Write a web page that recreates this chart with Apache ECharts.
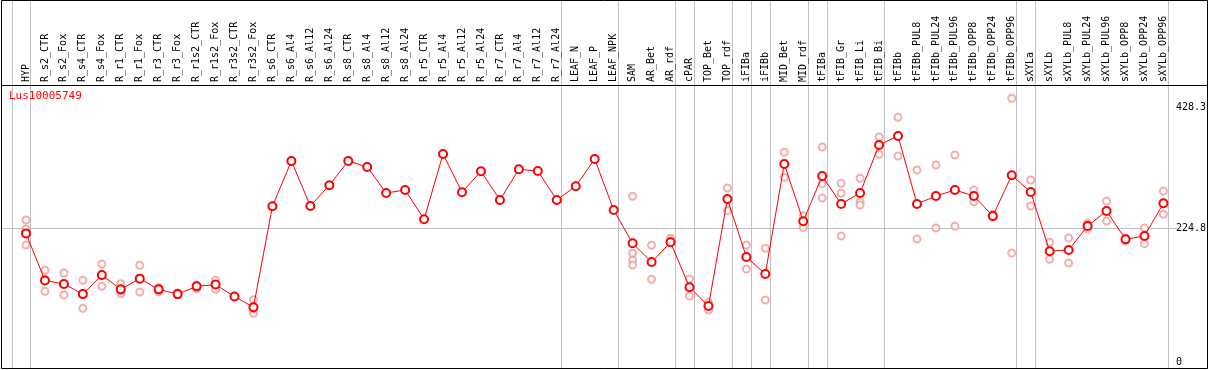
<!DOCTYPE html>
<html><head><meta charset="utf-8">
<script src="https://cdn.jsdelivr.net/npm/echarts@6/dist/echarts.min.js"></script>
<style>html,body{margin:0;padding:0;background:#fff}#c{width:1209px;height:370px}</style>
</head><body><div id="c"></div>
<script>
const title = 'Lus10005749';
const categories = ['HYP','R_s2_CTR','R_s2_Fox','R_s4_CTR','R_s4_Fox','R_r1_CTR','R_r1_Fox','R_r3_CTR','R_r3_Fox','R_r1s2_CTR','R_r1s2_Fox','R_r3s2_CTR','R_r3s2_Fox','R_s6_CTR','R_s6_Al4','R_s6_Al12','R_s6_Al24','R_s8_CTR','R_s8_Al4','R_s8_Al12','R_s8_Al24','R_r5_CTR','R_r5_Al4','R_r5_Al12','R_r5_Al24','R_r7_CTR','R_r7_Al4','R_r7_Al12','R_r7_Al24','LEAF_N','LEAF_P','LEAF_NPK','SAM','AR_Bet','AR_rdf','cPAR','TOP_Bet','TOP_rdf','iFIBa','iFIBb','MID_Bet','MID_rdf','tFIBa','tFIB_Gr','tFIB_Li','tFIB_Bi','tFIBb','tFIBb_PUL8','tFIBb_PUL24','tFIBb_PUL96','tFIBb_OPP8','tFIBb_OPP24','tFIBb_OPP96','sXYLa','sXYLb','sXYLb_PUL8','sXYLb_PUL24','sXYLb_PUL96','sXYLb_OPP8','sXYLb_OPP24','sXYLb_OPP96'];
const meanValues = [216,137,131,114,146,122,140,122,114,127,130,110,92,261.5,337.6,262,296.8,337.6,327.5,283.8,288.9,239.7,349.3,285,320.3,272.1,323.6,320.8,272.1,295.1,340.9,255.3,199.3,168,201,125.5,94,273.8,176.4,147.8,332.6,236.3,312.4,265.4,283.8,364.5,379.6,265.4,278.8,288.9,278.8,245.2,313.6,285.5,185.9,188.1,228.4,253.6,206.1,211.6,266.5];
const replicateValues = [
 [238.5,222.9,196.5],[154,118.7,139],[149.5,112.5,131],[137.2,90.2,115],[164.6,127.1,145],[131.5,114.7,120],[162.4,117.6,140],[123,118,125],[113,116],[129,123],[137.2,122],[],[104.7,81.8,89],
 [],[],[],[],[],[],[],[],[],[],[],[],[],[],[],[],[],[],[],
 [278.3,182.6,171.3,162.9],[196,138.9],[207.8,203],[139.4,110.8],[100.2,87.3],[292.2,254.2],[196.5,156.2],[191,104.1],[352.2,310.2],[245.7,226.2],[361.1,299.5,275.4],[300.1,283.3,211.6],[308.5,269.3,263.7],[377.9,348.8],[411,346],
 [322.5,206.6],[330.9,225.1],[347.7,227.9],[288.9,269.2],[248,243],[442.9,183.1],[305.7,262],[201,172.5],[208.3,166.3],[232.9,223.9],[270.4,236.8],[208,203],[225.1,198.7],[287.2,248.1]
];
const yTickLabels = [0, 224.8, 428.3];
const gridLineValue = 224.8;
const groupEndsAfter = [-1,0,28,31,34,35,37,38,39,41,42,45,52,53,60];

const yMin = -10.1, yMax = 465.2;
const FONT = 'DejaVu Sans Mono';
const repData = [];
replicateValues.forEach((arr, i) => arr.forEach(v => repData.push([i, v])));

const chart = echarts.init(document.getElementById('c'), null, {renderer: 'canvas'});
chart.setOption({
  animation: false,
  backgroundColor: '#fff',
  grid: [
    {left: 16.5, width: 1159, top: 85, height: 283, containLabel: false}
  ],
  xAxis: [{
    type: 'category', data: categories, position: 'top', boundaryGap: true,
    axisLine: {show: false}, axisTick: {show: false}, splitLine: {show: false},
    axisLabel: {rotate: 90, interval: 0, margin: 3, fontFamily: FONT, fontSize: 10, color: '#000'}
  }],
  yAxis: [{
    type: 'value', min: yMin, max: yMax, position: 'right',
    axisLine: {show: false}, axisTick: {show: false}, splitLine: {show: false},
    axisLabel: {customValues: yTickLabels, margin: 3, fontFamily: FONT, fontSize: 10, color: '#000',
      formatter: v => String(v)}
  }],
  series: [
    {type: 'scatter', data: repData, symbol: 'emptyCircle', symbolSize: 7,
     itemStyle: {color: '#f09a9a', borderWidth: 1.2}, z: 2},
    {type: 'line', data: meanValues, symbol: 'emptyCircle', symbolSize: 8, showAllSymbol: true,
     lineStyle: {color: '#ff0000', width: 1}, itemStyle: {color: '#ff0000', borderWidth: 1.7}, z: 3}
  ]
});

const bw = chart.convertToPixel({xAxisIndex: 0}, 1) - chart.convertToPixel({xAxisIndex: 0}, 0);
const x0 = chart.convertToPixel({xAxisIndex: 0}, 0);
const gy = chart.convertToPixel({yAxisIndex: 0}, gridLineValue);
const graphics = [];
groupEndsAfter.forEach(i => {
  const x = Math.round(x0 + bw * i + 4.5) + 0.5;
  graphics.push({type: 'line', shape: {x1: x, y1: 0, x2: x, y2: 368}, style: {stroke: '#c0c0c0', lineWidth: 1}, z: 0, silent: true});
});
graphics.push({type: 'line', shape: {x1: 1, y1: Math.round(gy) + 0.5, x2: 1177, y2: Math.round(gy) + 0.5}, style: {stroke: '#c0c0c0', lineWidth: 1}, z: 0, silent: true});
graphics.push({type: 'line', shape: {x1: 1, y1: 85.5, x2: 1207, y2: 85.5}, style: {stroke: '#000', lineWidth: 1}, z: 5, silent: true});
graphics.push({type: 'rect', shape: {x: 1.5, y: 0.5, width: 1206, height: 368}, style: {fill: 'none', stroke: '#000', lineWidth: 1}, z: 5, silent: true});
graphics.push({type: 'text', left: 9, top: 91, style: {text: title, fill: '#ff0000', font: '11px "DejaVu Sans Mono"'}, z: 5, silent: true});
chart.setOption({graphic: graphics});
</script></body></html>
